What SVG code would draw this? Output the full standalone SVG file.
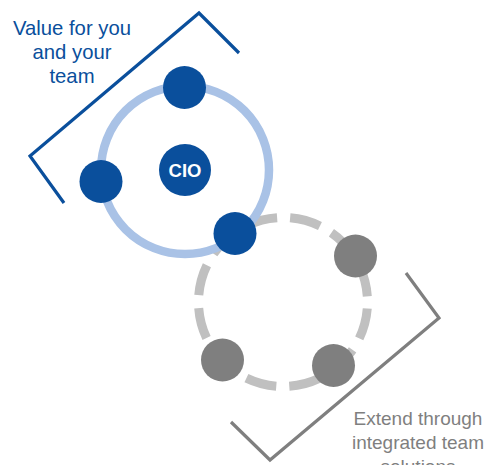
<svg xmlns="http://www.w3.org/2000/svg" width="485" height="465" viewBox="0 0 485 465">
<style>
.bn{fill:#0a4f9c}
.gn{fill:#7f7f7f}
.br{fill:none;stroke-width:3.2;stroke-linejoin:miter}
.t{font-family:"Liberation Sans",Arial,sans-serif;text-anchor:middle}
</style>
<rect width="485" height="465" fill="#ffffff"/>
<g id="connectors">
<circle cx="283" cy="302" r="84.5" fill="none" stroke="#c0c0c0" stroke-width="9" stroke-dasharray="31 13.24" stroke-dashoffset="37.6"/>
<circle cx="185" cy="170" r="84" fill="none" stroke="#a9c2e6" stroke-width="8.5"/>
<polyline class="br" stroke="#0a4f9c" points="64,203 30,156 199,13 239,53"/>
<polyline class="br" stroke="#7f7f7f" points="406,273 439,318 270,460 231,422"/>
</g>
<g id="label-value">
<text class="t" fill="#0a4f9c" font-size="20.3"><tspan x="72" y="35">Value for you</tspan><tspan x="72" y="59">and your</tspan><tspan x="72" y="83">team</tspan></text>
</g>
<g id="label-extend">
<text class="t" fill="#7f7f7f" font-size="19"><tspan x="418" y="425">Extend through</tspan><tspan x="418" y="449">integrated team</tspan><tspan x="418" y="473">solutions</tspan></text>
</g>
<g id="cio">
<circle class="bn" cx="185" cy="170" r="26"/>
<text class="t" fill="#ffffff" font-size="18.5" font-weight="bold" x="185" y="176.5">CIO</text>
</g>
<g id="node-top"><circle class="bn" cx="184.5" cy="87.5" r="21.5"/></g>
<g id="node-left"><circle class="bn" cx="101" cy="181.5" r="21.5"/></g>
<g id="node-link"><circle class="bn" cx="235" cy="233.5" r="21.5"/></g>
<g id="node-g1"><circle class="gn" cx="355.5" cy="256" r="21.5"/></g>
<g id="node-g2"><circle class="gn" cx="222.5" cy="360" r="21.5"/></g>
<g id="node-g3"><circle class="gn" cx="333.5" cy="365.5" r="21.5"/></g>
</svg>
